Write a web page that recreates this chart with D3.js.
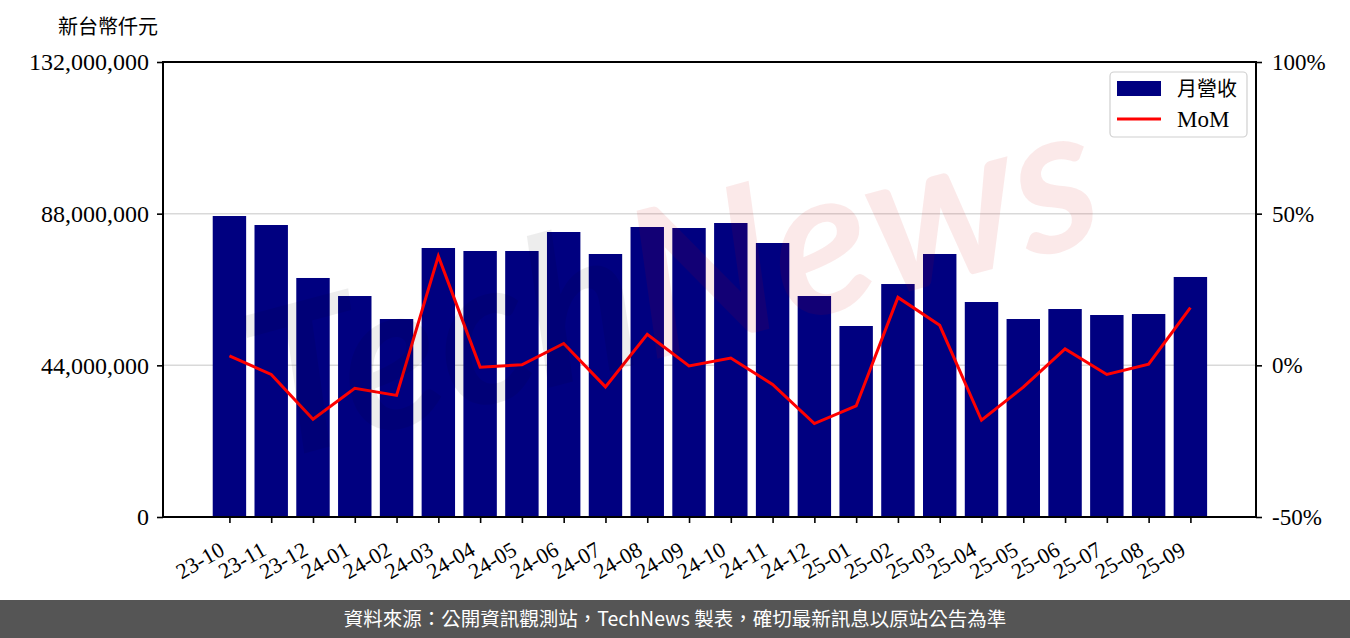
<!DOCTYPE html>
<html><head><meta charset="utf-8">
<script src="https://cdn.jsdelivr.net/npm/d3@7"></script>
<style>
html,body{margin:0;padding:0;background:#fff;}
svg{display:block;}
</style></head>
<body>
<script>
const months = ["23-10","23-11","23-12","24-01","24-02","24-03","24-04","24-05","24-06","24-07","24-08","24-09","24-10","24-11","24-12","25-01","25-02","25-03","25-04","25-05","25-06","25-07","25-08","25-09"];
const revenue = [87320000,84710000,69340000,64110000,57440000,78040000,77170000,77170000,82680000,76300000,84130000,83840000,85290000,79490000,64110000,55410000,67590000,76300000,62370000,57440000,60340000,58600000,58890000,69630000];
const mom = [3.1,-3.0,-17.8,-7.6,-9.9,36.0,-0.6,0.2,7.2,-7.1,10.2,-0.2,2.4,-6.3,-19.2,-13.4,22.4,13.2,-18.1,-7.2,5.4,-3.0,0.4,19.0];
const leftTicks = [0,44000000,88000000,132000000];
const rightTicks = [-50,0,50,100];
const yLabel = "新台幣仟元";
const legendLabels = ["月營收","MoM"];
const footerText = "資料來源：公開資訊觀測站，TechNews 製表，確切最新訊息以原站公告為準";

const W = 1350, H = 638;
const L = 163, R = 1256, T = 62, B = 517;
const serif = "'Liberation Serif','DejaVu Serif',serif";

const svg = d3.select("body").append("svg").attr("width", W).attr("height", H);

const x = d3.scaleLinear().domain([-1.59, months.length - 1 + 1.57]).range([L, R]);
const yL = d3.scaleLinear().domain([0, 132000000]).range([B, T]);
const yR = d3.scaleLinear().domain([-50, 100]).range([B, T]);
const bw = x(0.8) - x(0);

// grid
svg.append("g").selectAll("line").data(leftTicks.slice(1, -1)).join("line")
  .attr("x1", L).attr("x2", R).attr("y1", d => yL(d)).attr("y2", d => yL(d))
  .attr("stroke", "#d9d9d9").attr("stroke-width", 1.5);

// bars
svg.append("g").selectAll("rect").data(revenue).join("rect")
  .attr("x", (d, i) => x(i) - bw / 2).attr("width", bw)
  .attr("y", d => yL(d)).attr("height", d => yL(0) - yL(d))
  .attr("fill", "#000080");

// line
svg.append("path").datum(mom)
  .attr("d", d3.line().x((d, i) => x(i)).y(d => yR(d)))
  .attr("fill", "none").attr("stroke", "#ff0000").attr("stroke-width", 3)
  .attr("stroke-linejoin", "miter");

// watermark
const wm = svg.append("text")
  .attr("transform", "translate(690,350) rotate(-15)")
  .attr("text-anchor", "middle")
  .attr("font-family", "Lato, 'Open Sans', sans-serif")
  .attr("font-style", "italic").attr("font-weight", "bold")
  .attr("font-size", 205).attr("pointer-events", "none");
wm.append("tspan").text("Tech").attr("fill", "#000").attr("fill-opacity", 0.07);
wm.append("tspan").text("News").attr("fill", "#cc0000").attr("fill-opacity", 0.085);

// axes
const axL = d3.axisLeft(yL).tickValues(leftTicks).tickSize(6).tickPadding(8).tickFormat(d3.format(",d"));
const gL = svg.append("g").attr("transform", `translate(${L},0)`).call(axL);
const axRt = d3.axisRight(yR).tickValues(rightTicks).tickSize(6).tickPadding(10).tickFormat(d => d + "%");
const gR = svg.append("g").attr("transform", `translate(${R},0)`).call(axRt);
const axB = d3.axisBottom(x).tickValues(d3.range(months.length)).tickSize(6).tickFormat(i => months[i]);
const gB = svg.append("g").attr("transform", `translate(0,${B})`).call(axB);

[gL, gR, gB].forEach(g => {
  g.select(".domain").remove();
  g.selectAll(".tick line").attr("stroke", "#000").attr("stroke-width", 1.6);
  g.selectAll("text").attr("font-family", serif).attr("fill", "#000");
});
gL.selectAll("text").attr("font-size", 24);
gR.selectAll("text").attr("font-size", 23);
gB.selectAll("text")
  .attr("font-size", 22)
  .attr("text-anchor", "end")
  .attr("x", 0).attr("y", 0).attr("dy", 0)
  .attr("transform", "translate(-4,37) rotate(-30)");

// frame
svg.append("rect").attr("x", L).attr("y", T).attr("width", R - L).attr("height", B - T)
  .attr("fill", "none").attr("stroke", "#000").attr("stroke-width", 2);

// y label
svg.append("text").attr("x", 108).attr("y", 34).attr("text-anchor", "middle")
  .attr("font-family", "'Noto Sans CJK TC',sans-serif").attr("font-size", 20).attr("fill", "#000")
  .text(yLabel);

// legend
const lg = svg.append("g");
lg.append("rect").attr("x", 1110).attr("y", 72).attr("width", 137).attr("height", 65).attr("rx", 4)
  .attr("fill", "#fff").attr("fill-opacity", 0.85).attr("stroke", "#d0d0d0").attr("stroke-width", 1.2);
lg.append("rect").attr("x", 1117).attr("y", 81).attr("width", 44).attr("height", 15).attr("fill", "#000080");
lg.append("line").attr("x1", 1117).attr("x2", 1161).attr("y1", 119).attr("y2", 119)
  .attr("stroke", "#ff0000").attr("stroke-width", 3);
lg.append("text").attr("x", 1177).attr("y", 96).attr("font-family", "'Noto Sans CJK TC',sans-serif")
  .attr("font-size", 20).attr("fill", "#000").text(legendLabels[0]);
lg.append("text").attr("x", 1177).attr("y", 127).attr("font-family", serif)
  .attr("font-size", 23).attr("fill", "#000").text(legendLabels[1]);

// footer
svg.append("rect").attr("x", 0).attr("y", 600).attr("width", W).attr("height", 38).attr("fill", "#555555");
svg.append("text").attr("x", 675).attr("y", 626).attr("text-anchor", "middle")
  .attr("font-family", "'Noto Sans CJK TC',sans-serif").attr("font-size", 19.5).attr("fill", "#fff")
  .text(footerText);
</script>
</body></html>
